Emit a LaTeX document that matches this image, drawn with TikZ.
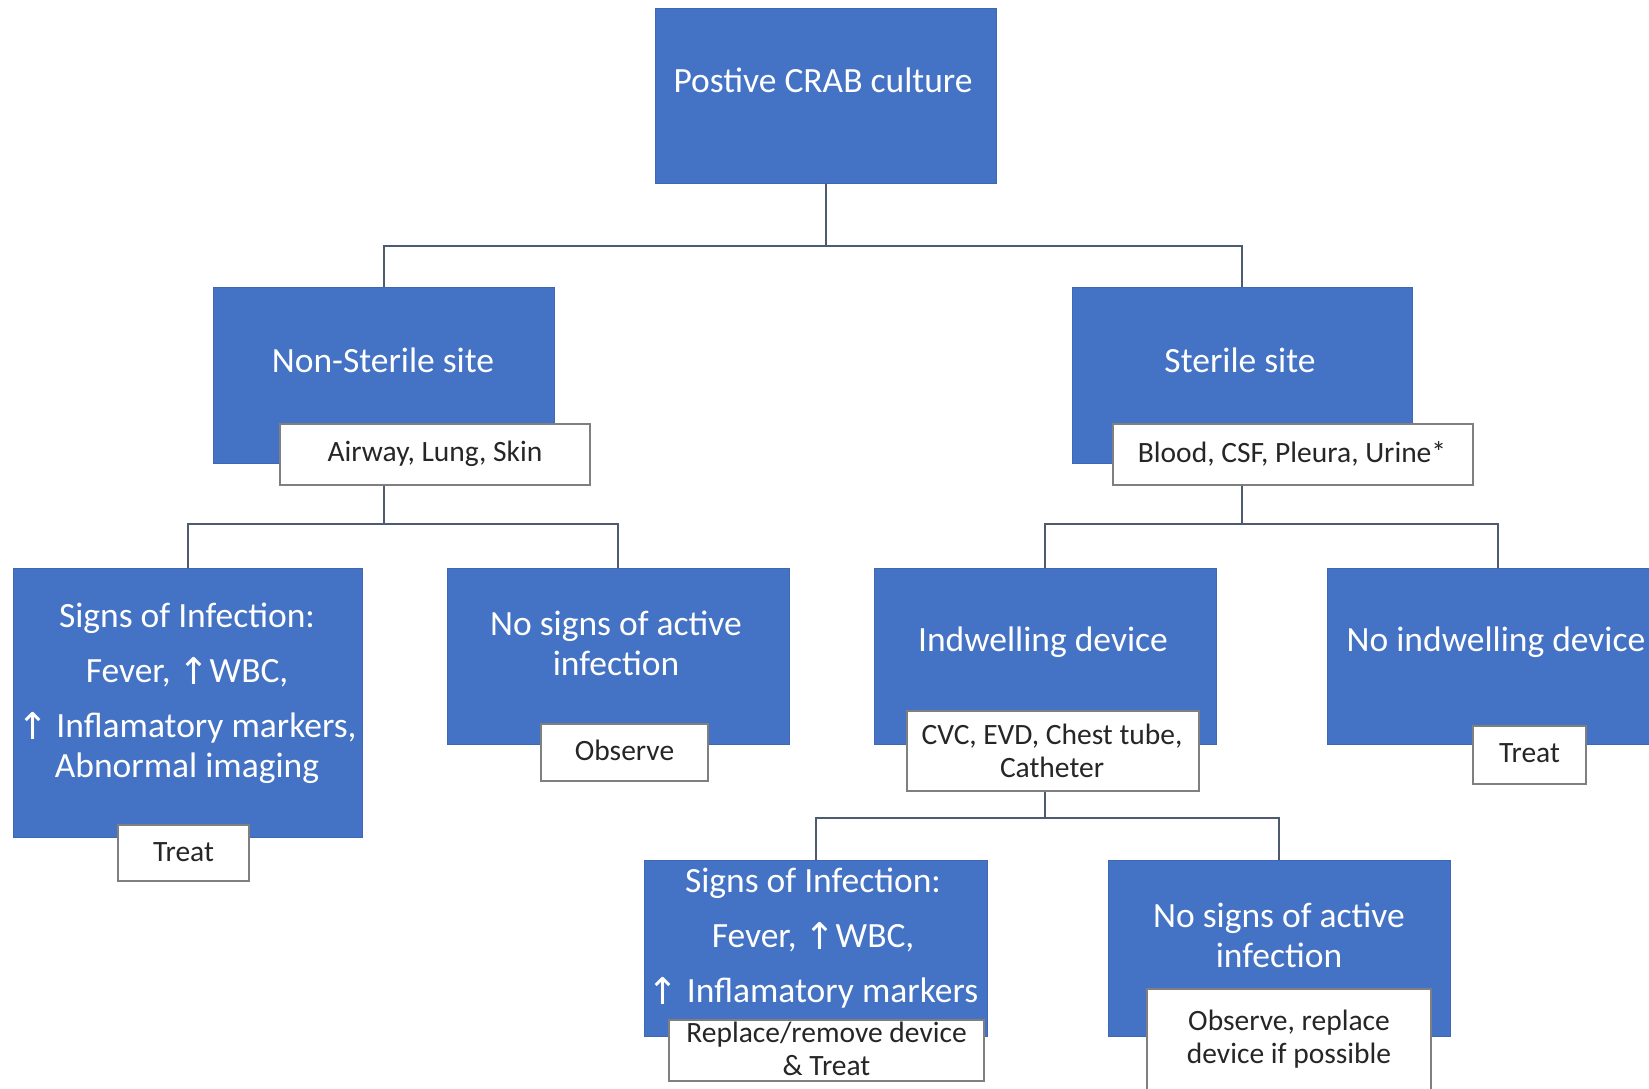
\documentclass[tikz,border=0pt]{standalone}
\usepackage{fontspec}
\setmainfont{Carlito}
\newfontfamily\arrfont{DejaVu Sans}
\definecolor{boxblue}{HTML}{4472C4}
\definecolor{boxedge}{HTML}{3F68B4}
\definecolor{subedge}{HTML}{7F7F7F}
\definecolor{linkcol}{HTML}{4E5B6E}
\newcommand{\up}{\raisebox{-2pt}{\arrfont\fontsize{37}{37}\selectfont ↑}}
\begin{document}
\begin{tikzpicture}[x=1pt,y=-1pt,
  bluebox/.style={draw=boxedge, fill=boxblue, line width=1pt, inner sep=0pt, rectangle},
  subbox/.style={draw=subedge, fill=white, line width=1.5pt, inner sep=0pt, rectangle},
  bigtext/.style={text=white, align=center, font=\fontsize{35.5}{40}\selectfont, inner sep=0pt},
  smalltext/.style={text=black!85, align=center, font=\fontsize{29.5}{33}\selectfont, inner sep=0pt},
  link/.style={draw=linkcol, line width=2pt}]
\useasboundingbox (0,0) rectangle (1649,1088);
\fill[white] (0,0) rectangle (1649,1088);

% big boxes
\node[bluebox, minimum width=341pt, minimum height=175pt] (top) at (825.5,95.5) {};
\node[bluebox, minimum width=341pt, minimum height=176pt] (ns) at (383.5,375) {};
\node[bluebox, minimum width=340pt, minimum height=176pt] (st) at (1242,375) {};
\node[bluebox, minimum width=349pt, minimum height=269pt] (sigl) at (187.5,702.5) {};
\node[bluebox, minimum width=342pt, minimum height=176pt] (nosig) at (618,656) {};
\node[bluebox, minimum width=342pt, minimum height=176pt] (indw) at (1045,656) {};
\node[bluebox, minimum width=342pt, minimum height=176pt] (noindw) at (1498,656) {};
\node[bluebox, minimum width=343pt, minimum height=176pt] (sig2) at (815.5,948) {};
\node[bluebox, minimum width=342pt, minimum height=176pt] (nosig2) at (1279,948) {};

% connectors
\coordinate (j1) at (825.5,246);
\coordinate (j2) at (383.5,524);
\coordinate (j3) at (1242,524);
\coordinate (j4) at (1045,818);
\draw[link] (top.south) -- (j1);
\draw[link] (j1) -| (ns.north);
\draw[link] (j1) -| (st.north);
\draw[link] (ns.south) -- (j2);
\draw[link] (j2) -| (sigl.north);
\draw[link] (j2) -| (nosig.north);
\draw[link] (st.south) -- (j3);
\draw[link] (j3) -| (indw.north);
\draw[link] (j3) -| (noindw.north);
\draw[link] (indw.south) -- (j4);
\draw[link] (j4) -| (sig2.north);
\draw[link] (j4) -| (nosig2.north);

% sub boxes
\node[subbox, minimum width=310pt, minimum height=61pt] (air) at (435,454.5) {};
\node[subbox, minimum width=360pt, minimum height=61pt] (blood) at (1293,454.5) {};
\node[subbox, minimum width=131pt, minimum height=56pt] (treatl) at (183.5,853) {};
\node[subbox, minimum width=167pt, minimum height=57pt] (obs) at (624.5,752.5) {};
\node[subbox, minimum width=292pt, minimum height=80pt] (cvc) at (1053,751) {};
\node[subbox, minimum width=113pt, minimum height=58pt] (treatr) at (1529.5,755) {};
\node[subbox, minimum width=315pt, minimum height=61pt] (repl) at (826.5,1050.5) {};
\node[subbox, minimum width=284pt, minimum height=109pt] (obs2) at (1289,1043.5) {};

% texts in big boxes
\node[bigtext] (t-top) at (823,80) {Postive CRAB culture};
\node[bigtext] (t-ns) at (383,360) {Non-Sterile site};
\node[bigtext] (t-st) at (1240,360) {Sterile site};
\node[bigtext, anchor=north] (t-sigl) at (187,603) {Signs of Infection:\\[15pt] Fever, \up WBC,\\[15pt] \up\ Inflamatory markers,\\ Abnormal imaging};
\node[bigtext] (t-nosig) at (616,643) {No signs of active\\ infection};
\node[bigtext] (t-indw) at (1043,642) {Indwelling device};
\node[bigtext] (t-noindw) at (1496,642) {No indwelling device};
\node[bigtext, anchor=north] (t-sig2) at (813,868) {Signs of Infection:\\[15pt] Fever, \up WBC,\\[15pt] \up\ Inflamatory markers};
\node[bigtext] (t-nosig2) at (1279,935) {No signs of active\\ infection};

% texts in sub boxes
\node[smalltext] (t-air) at (435,454) {Airway, Lung, Skin};
\node[smalltext] (t-blood) at (1292,454) {Blood, CSF, Pleura, Urine*};
\node[smalltext] (t-treatl) at (183.5,852) {Treat};
\node[smalltext] (t-obs) at (624.5,750) {Observe};
\node[smalltext] (t-cvc) at (1052,750.5) {CVC, EVD, Chest tube,\\ Catheter};
\node[smalltext] (t-treatr) at (1529.5,753) {Treat};
\node[smalltext] (t-repl) at (826.5,1049) {Replace/remove device\\ \& Treat};
\node[smalltext] (t-obs2) at (1289,1039) {Observe, replace\\ device if possible};
\end{tikzpicture}
\end{document}
